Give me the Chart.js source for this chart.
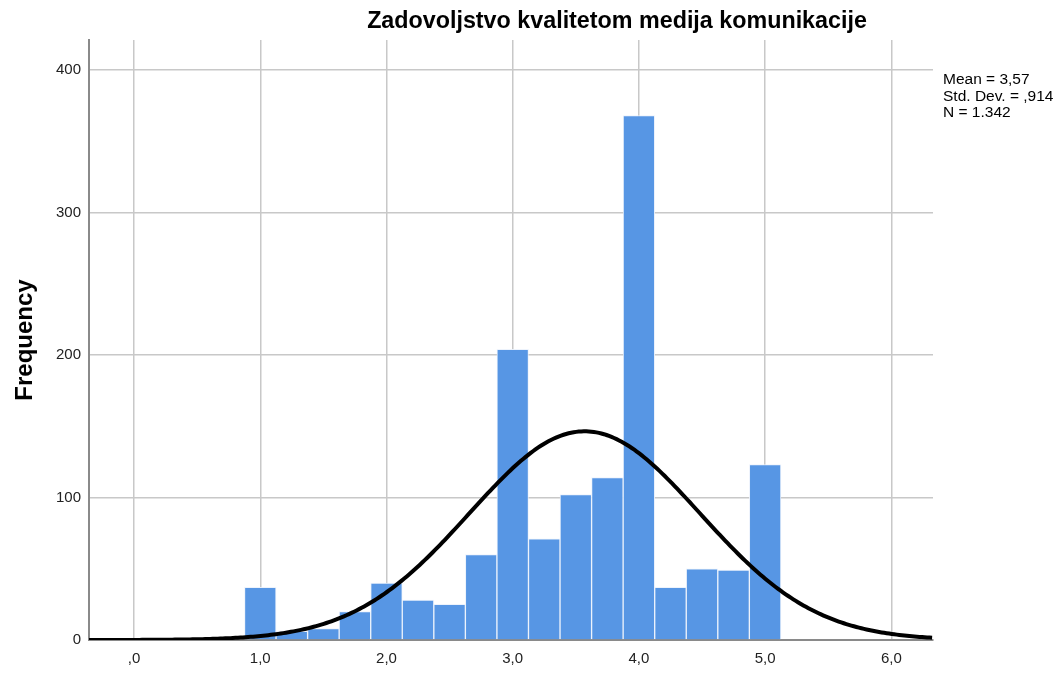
<!DOCTYPE html>
<html>
<head>
<meta charset="utf-8">
<script src="https://cdn.jsdelivr.net/npm/chart.js@4/dist/chart.umd.min.js"></script>
<style>
  html, body { margin:0; padding:0; background:#fff; }
  #wrap { width:1063px; height:673px; position:relative; }
</style>
</head>
<body>
<div id="wrap"><canvas id="hist"></canvas></div>
<script>
// histogram bins (centre of each 0.25 wide bin) and counts
const binCenters = [1.0, 1.25, 1.5, 1.75, 2.0, 2.25, 2.5, 2.75, 3.0, 3.25, 3.5, 3.75, 4.0, 4.25, 4.5, 4.75, 5.0];
const binCounts  = [37, 6, 8, 20, 40, 28, 25, 60, 204, 71, 102, 114, 368, 37, 50, 49, 123];
const binWidth = 0.25;

// summary statistics shown beside the plot
const statMean = 3.57;
const statSD = 0.914;
const statN = 1342;
const statLines = ["Mean = 3,57", "Std. Dev. = ,914", "N = 1.342"];

// axis ticks
const xTicks = [0, 1, 2, 3, 4, 5, 6];
const xTickLabels = [",0", "1,0", "2,0", "3,0", "4,0", "5,0", "6,0"];
const yTicks = [0, 100, 200, 300, 400];

const xMin = -0.357, xMax = 6.33;
const yMax = 421;

// fitted normal curve from mean / sd / N, scaled to bin width
const normalCurve = [];
for (let x = xMin; x <= xMax + 0.001; x += 0.02) {
  const z = (x - statMean) / statSD;
  const y = statN * binWidth * Math.exp(-0.5 * z * z) / (statSD * Math.sqrt(2 * Math.PI));
  normalCurve.push({ x, y });
}

const bars = binCenters.map((c, i) => ({ x: c, y: binCounts[i] }));

const FONT = "'Liberation Sans', Arial, sans-serif";

// title + stats box drawn outside chart area
const extraText = {
  id: "extraText",
  afterDraw(chart) {
    const ctx = chart.ctx;
    ctx.save();
    ctx.fillStyle = "#000";
    ctx.font = "bold 23.3px " + FONT;
    ctx.textAlign = "center";
    ctx.textBaseline = "middle";
    ctx.fillText("Zadovoljstvo kvalitetom medija komunikacije", 617, 22);

    ctx.font = "15.5px " + FONT;
    ctx.textAlign = "left";
    statLines.forEach((t, i) => ctx.fillText(t, 943, 80 + i * 16.5));
    ctx.restore();
  }
};

new Chart(document.getElementById("hist"), {
  type: "bar",
  data: {
    datasets: [
      {
        type: "line",
        data: normalCurve,
        borderColor: "#000",
        borderWidth: 4,
        pointRadius: 0,
        tension: 0,
        order: 0
      },
      {
        type: "bar",
        data: bars,
        backgroundColor: "#5796e4",
        borderColor: "rgba(235,242,252,0.9)",
        borderWidth: 1,
        barPercentage: 1,
        categoryPercentage: 1,
        order: 1
      }
    ]
  },
  options: {
    responsive: true,
    maintainAspectRatio: false,
    animation: false,
    layout: { padding: { left: 0, right: 130, top: 40, bottom: 0 } },
    plugins: { legend: { display: false }, tooltip: { enabled: false } },
    scales: {
      x: {
        type: "linear",
        min: xMin,
        max: xMax,
        offset: false,
        afterBuildTicks: s => { s.ticks = xTicks.map(v => ({ value: v })); },
        afterFit: s => { s.height = 33; },
        ticks: {
          callback: (v) => xTickLabels[xTicks.indexOf(v)],
          color: "#222",
          font: { size: 15, family: FONT },
          padding: 10,
          maxRotation: 0
        },
        grid: { color: "#c8c8c8", lineWidth: 1.5, drawTicks: false, offset: false },
        border: { color: "#8a8a8a", width: 2 }
      },
      y: {
        min: 0,
        max: yMax,
        afterBuildTicks: s => { s.ticks = yTicks.map(v => ({ value: v })); },
        afterFit: s => { s.width = 89; },
        title: {
          display: true,
          text: "Frequency",
          color: "#000",
          font: { size: 24, weight: "bold", family: FONT },
          padding: { top: 11, bottom: 0 }
        },
        ticks: {
          color: "#222",
          font: { size: 15, family: FONT },
          padding: 8
        },
        grid: { color: "#c8c8c8", lineWidth: 1.5, drawTicks: false },
        border: { color: "#8a8a8a", width: 2 }
      }
    }
  },
  plugins: [extraText]
});
</script>
</body>
</html>
